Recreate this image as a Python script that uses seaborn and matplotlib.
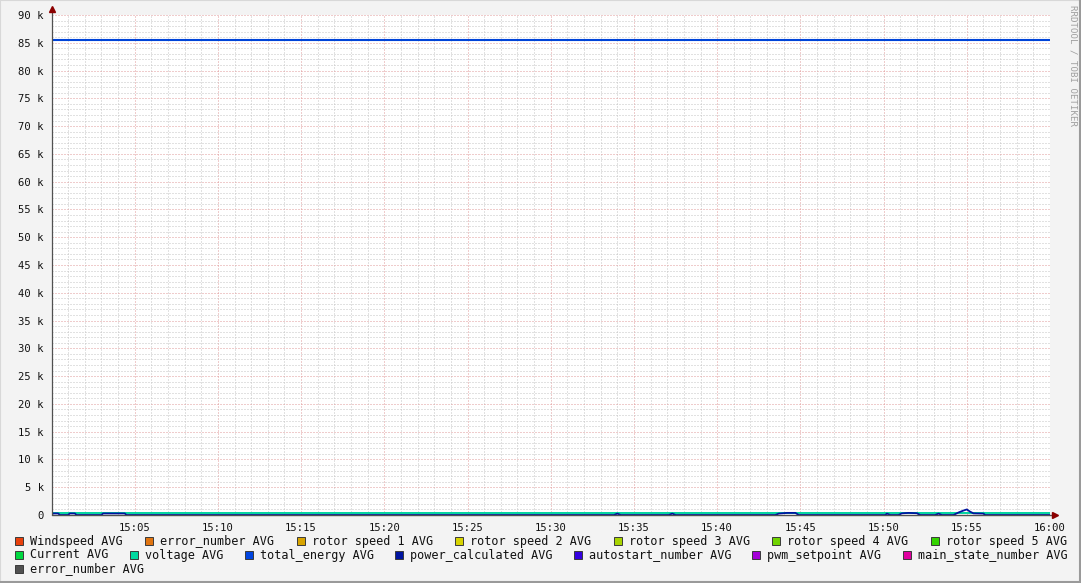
import matplotlib
matplotlib.use('Agg')
import matplotlib.pyplot as plt
import seaborn as sns
from matplotlib.patches import Rectangle
from matplotlib.ticker import FixedLocator, MultipleLocator

# --- data (x = minutes after 15:00) ---
energy_t = [0, 60]
energy_v = [85500, 85500]

voltage_t = [0, 60]
voltage_v = [280, 280]

power_t = [0, 0.1, 0.4, 0.5, 1.0, 1.1, 1.4, 1.5, 3.0, 3.1, 4.4, 4.5,
           33.8, 34.0, 34.2, 37.1, 37.3, 37.5,
           43.5, 43.7, 44.2, 44.7, 44.9, 50.1, 50.2, 50.4,
           50.9, 51.1, 51.5, 52.0, 52.2, 53.1, 53.3, 53.5,
           54.2, 54.5, 54.8, 55.0, 55.2, 55.4, 56.0, 56.1, 60]
power_v = [0, 280, 280, 0, 0, 280, 280, 0, 0, 280, 280, 0,
           0, 250, 0, 0, 250, 0,
           0, 250, 380, 380, 0, 0, 250, 0,
           0, 300, 380, 320, 0, 0, 250, 0,
           0, 450, 800, 1000, 600, 300, 250, 0, 0]

x_ticks = [5, 10, 15, 20, 25, 30, 35, 40, 45, 50, 55, 60]
x_labels = ['15:05', '15:10', '15:15', '15:20', '15:25', '15:30',
            '15:35', '15:40', '15:45', '15:50', '15:55', '16:00']
y_ticks = [0, 5000, 10000, 15000, 20000, 25000, 30000, 35000, 40000,
           45000, 50000, 55000, 60000, 65000, 70000, 75000, 80000, 85000, 90000]
y_labels = ['0', '5 k', '10 k', '15 k', '20 k', '25 k', '30 k', '35 k', '40 k',
            '45 k', '50 k', '55 k', '60 k', '65 k', '70 k', '75 k', '80 k', '85 k', '90 k']

legend_rows = [
    ['Windspeed AVG', 'error_number AVG', 'rotor speed 1 AVG', 'rotor speed 2 AVG',
     'rotor speed 3 AVG', 'rotor speed 4 AVG', 'rotor speed 5 AVG'],
    ['Current AVG', 'voltage AVG', 'total_energy AVG', 'power_calculated AVG',
     'autostart_number AVG', 'pwm_setpoint AVG', 'main_state_number AVG'],
    ['error_number AVG'],
]
legend_colors = [
    ['#e8400c', '#e07410', '#d8a400', '#d8d400', '#a8d400', '#70d400', '#34d400'],
    ['#00d840', '#00d8a0', '#0044e0', '#0014a0', '#3400e0', '#a400d8', '#e000a0'],
    ['#505050'],
]

energy_color = '#0044d8'
power_color = '#0014a0'
voltage_color = '#00d4a0'

# --- figure ---
sns.set_style('white')
plt.rcParams['font.family'] = ['DejaVu Sans Mono']

W, H = 1081, 583
fig = plt.figure(figsize=(W / 100, H / 100), dpi=100)
fig.patch.set_facecolor('#f3f3f3')

L, R, T, B = 51.5, 1050, 15, 515
ax = fig.add_axes([L / W, 1 - B / H, (R - L) / W, (B - T) / H])
ax.set_facecolor('white')

sns.lineplot(x=voltage_t, y=voltage_v, ax=ax, color=voltage_color, linewidth=1.4,
             estimator=None, zorder=3)
sns.lineplot(x=power_t, y=power_v, ax=ax, color=power_color, linewidth=1.3,
             estimator=None, zorder=4)
sns.lineplot(x=energy_t, y=energy_v, ax=ax, color=energy_color, linewidth=1.5,
             estimator=None, zorder=4)

ax.set_xlim(0, 60)
ax.set_ylim(0, 90000)
ax.set_xlabel('')
ax.set_ylabel('')

ax.xaxis.set_major_locator(FixedLocator(x_ticks))
ax.set_xticklabels(x_labels)
ax.xaxis.set_minor_locator(MultipleLocator(1))
ax.yaxis.set_major_locator(FixedLocator(y_ticks))
ax.set_yticklabels(y_labels)
ax.yaxis.set_minor_locator(MultipleLocator(1000))

ax.grid(which='minor', color='#c4c4c4', linestyle=(0, (1, 2)), linewidth=0.72, zorder=0)
ax.grid(which='major', color='#e09a9a', linestyle=(0, (1, 2)), linewidth=0.72, zorder=1)
ax.set_axisbelow(True)

ax.tick_params(which='major', direction='out', length=2.5, width=0.7, color='#d08080',
               labelsize=7.6, labelcolor='#111111', pad=3)
ax.tick_params(which='minor', direction='out', length=1.5, width=0.6, color='#909090')

for s in ['top', 'right', 'left', 'bottom']:
    ax.spines[s].set_visible(False)

# axis lines extended with arrow heads
axis_col = '#505050'
ax.plot([0, 0], [0, 1.012], transform=ax.transAxes, color=axis_col, lw=0.9,
        clip_on=False, zorder=5)
ax.plot([0, 1.005], [0, 0], transform=ax.transAxes, color=axis_col, lw=1.0,
        clip_on=False, zorder=5)
ax.plot([0], [1.012], transform=ax.transAxes, marker='^', color='#8b0000',
        markersize=4.2, clip_on=False, zorder=6)
ax.plot([1.005], [0], transform=ax.transAxes, marker='>', color='#8b0000',
        markersize=4.2, clip_on=False, zorder=6)

# watermark
fig.text(1073 / W, 1 - 5 / H, 'RRDTOOL / TOBI OETIKER', rotation=270, ha='center',
         va='top', fontsize=6.6, color='#a0a0a0')

# legend, justified like rrdtool
char_w = 7.06
left_x, right_x = 15, 1066
row_y = [541, 555, 569]
for ri, (names, cols) in enumerate(zip(legend_rows, legend_colors)):
    widths = [15 + char_w * len(n) for n in names]
    if ri < len(legend_rows) - 1 and len(names) > 1:
        gap = (right_x - left_x - sum(widths)) / (len(names) - 1)
    else:
        gap = 24
    x = left_x
    y = row_y[ri]
    for n, c, w in zip(names, cols, widths):
        fig.patches.append(Rectangle((x / W, 1 - (y + 4) / H), 8 / W, 8 / H,
                                     transform=fig.transFigure, facecolor=c,
                                     edgecolor='#3a3a3a', linewidth=0.7))
        fig.text((x + 15) / W, 1 - y / H, n, ha='left', va='center',
                 fontsize=8.5, color='#111111')
        x += w + gap

# frame shading
fig.patches.append(Rectangle((0, 0), 1, 1, transform=fig.transFigure, fill=False,
                             edgecolor='#d8d8d8', linewidth=1.5))
fig.add_artist(plt.Line2D([1 - 1 / W, 1 - 1 / W], [0, 1], transform=fig.transFigure,
                          color='#9a9a9a', lw=1.5))
fig.add_artist(plt.Line2D([0, 1], [1 / H, 1 / H], transform=fig.transFigure,
                          color='#9a9a9a', lw=1.5))

fig.savefig('out.png', dpi=100, facecolor=fig.get_facecolor())
